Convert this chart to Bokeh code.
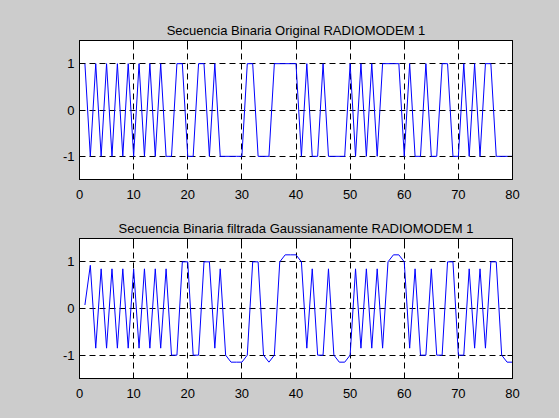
from bokeh.plotting import figure
from bokeh.layouts import column
from bokeh.models import Range1d, FixedTicker, LinearAxis
from bokeh.embed import file_html
from bokeh.resources import INLINE

# ---- data ----
muestras = list(range(1, 81))
original = [1, -1, 1, -1, 1, -1, 1, -1, 1, -1,
            1, -1, 1, -1, 1, -1, -1, 1, 1, -1,
            -1, 1, 1, -1, 1, -1, -1, -1, -1, -1,
            1, 1, -1, -1, -1, 1, 1, 1, 1, 1,
            -1, 1, -1, -1, 1, -1, -1, -1, -1, 1,
            -1, 1, -1, 1, -1, 1, 1, 1, 1, -1,
            1, -1, -1, 1, -1, -1, 1, 1, -1, -1,
            1, -1, 1, -1, 1, 1, -1, -1, -1, -1]
filtrada = [0.075, 0.925, -0.85, 0.85, -0.85, 0.85, -0.85, 0.85, -0.85, 0.85,
            -0.85, 0.85, -0.85, 0.85, -0.85, 0.85, -1, -1, 1, 1,
            -1, -1, 1, 1, -0.85, 0.85, -1, -1.15, -1.15, -1.15,
            -1, 1, 1, -1, -1.15, -1, 1, 1.15, 1.15, 1.15,
            1, -0.85, 0.85, -1, -1, 0.85, -1, -1.15, -1.15, -1,
            0.85, -0.85, 0.85, -0.85, 0.85, -0.85, 1, 1.15, 1.15, 1,
            -0.85, 0.85, -1, -1, 0.85, -1, -1, 1, 1, -1,
            -1, 0.85, -0.85, 0.85, -0.85, 1, 1, -1, -1.15, -1.15]
x_ticks = [0, 10, 20, 30, 40, 50, 60, 70, 80]
y_ticks = [-1, 0, 1]
y_tick_labels = ["-1", "0", "1"]
titulos = ["Secuencia Binaria Original RADIOMODEM 1",
           "Secuencia Binaria filtrada Gaussianamente RADIOMODEM 1"]

BG = "#cccccc"
FONT = "Liberation Sans"
FS = "13px"
W = 559


def panel(titulo, yvals, height, top, bottom):
    p = figure(width=W, height=height,
               x_range=Range1d(0, 80), y_range=Range1d(-1.5, 1.5),
               output_backend="svg", toolbar_location=None,
               min_border_left=79, min_border_right=47,
               min_border_top=top, min_border_bottom=bottom,
               background_fill_color="white", border_fill_color=BG,
               outline_line_color="black", outline_line_width=1,
               title=titulo)
    p.title.align = "center"
    p.title.text_font = FONT
    p.title.text_font_size = FS
    p.title.text_font_style = "normal"
    p.title.text_color = "black"
    p.title.standoff = 6

    for ax, ticks in ((p.xaxis, x_ticks), (p.yaxis, y_ticks)):
        ax.ticker = FixedTicker(ticks=ticks)
        ax.major_tick_in = 5
        ax.major_tick_out = 0
        ax.minor_tick_line_color = None
        ax.axis_line_color = "black"
        ax.major_tick_line_color = "black"
        ax.major_label_text_font = FONT
        ax.major_label_text_font_size = FS
        ax.major_label_text_color = "black"
    p.xaxis.major_label_standoff = 10
    p.yaxis.major_label_standoff = 5
    p.yaxis.major_label_overrides = {t: s for t, s in zip(y_ticks, y_tick_labels)}

    for loc, ticks in (("above", x_ticks), ("right", y_ticks)):
        ax = LinearAxis(ticker=FixedTicker(ticks=ticks),
                        major_label_overrides={t: "" for t in ticks},
                        major_label_text_font_size="0px",
                        major_label_standoff=0,
                        major_tick_in=5, major_tick_out=0,
                        minor_tick_line_color=None,
                        axis_line_color="black",
                        major_tick_line_color="black")
        p.add_layout(ax, loc)

    p.xgrid.ticker = FixedTicker(ticks=x_ticks)
    p.ygrid.ticker = FixedTicker(ticks=y_ticks)
    for g in (p.xgrid, p.ygrid):
        g.grid_line_color = "black"
        g.grid_line_dash = "6 4"
        g.grid_line_width = 1

    p.line(muestras, yvals, line_color="#0000ff", line_width=1)
    return p


p1 = panel(titulos[0], original, 208, 40, 29)
p2 = panel(titulos[1], filtrada, 210, 30, 40)
layout = column(p1, p2, spacing=0, background=BG)

html = file_html(layout, INLINE)
html = html.replace("</head>", "<style>body{background:#cccccc;}</style></head>", 1)
open("out.html", "w").write(html)
